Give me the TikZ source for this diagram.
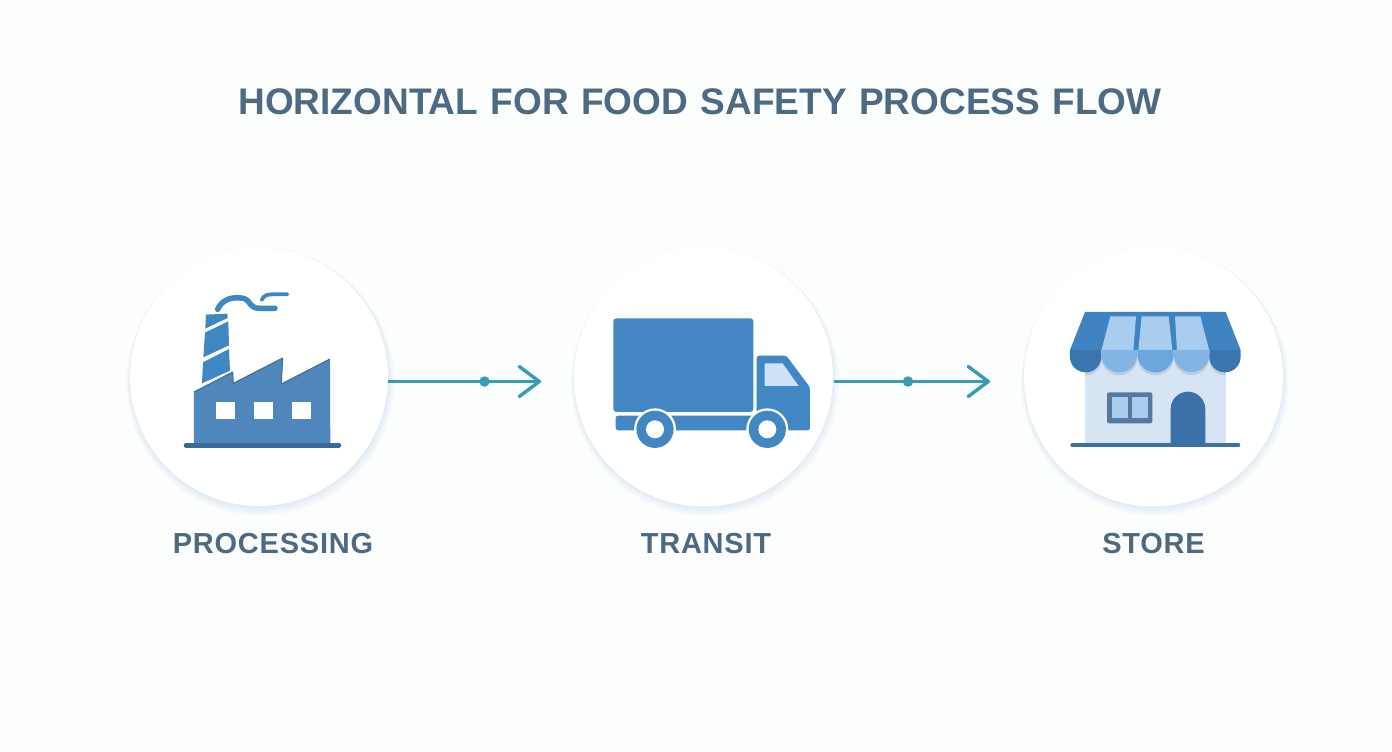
\documentclass[tikz,border=0pt]{standalone}
\usepackage{fontspec}
\setmainfont{Liberation Sans}
\newfontfamily\lblfont[LetterSpace=2.7]{Liberation Sans}
\newfontfamily\ttlfont[WordSpace=1.215]{Liberation Sans}
\usetikzlibrary{arrows.meta}
\definecolor{bgc}{HTML}{FCFDFD}
\definecolor{txtc}{HTML}{4D6A82}
\definecolor{teal}{HTML}{369DB5}
\definecolor{fac}{HTML}{4F86BC}
\definecolor{facd}{HTML}{3A6A9C}
\definecolor{smoke}{HTML}{3F87C2}
\definecolor{truck}{HTML}{4286C3}
\definecolor{glass}{HTML}{CFE1F5}
\definecolor{awn}{HTML}{3F83C2}
\definecolor{awnd}{HTML}{3A75AE}
\definecolor{stripe}{HTML}{A9CDEE}
\definecolor{stripel}{HTML}{82B5E3}
\definecolor{stripem}{HTML}{6BA6DC}
\definecolor{wallc}{HTML}{D6E4F3}
\definecolor{door}{HTML}{3A72A8}
\definecolor{frame}{HTML}{56799E}
\definecolor{shad}{HTML}{6FAFD2}
\tikzset{
  x=1pt,y=-1pt,
  disc/.style={circle,fill=white,minimum size=#1,inner sep=0pt},
  lbl/.style={font=\lblfont\bfseries\fontsize{29}{32}\selectfont,text=txtc,inner sep=0pt,anchor=center},
  ttl/.style={font=\ttlfont\bfseries\fontsize{37}{40}\selectfont,text=txtc,inner sep=0pt,anchor=center},
  link/.style={draw=teal,line width=2.8pt,-{Straight Barb[length=20pt,width=30pt,line width=3.4pt,round]}},
  jdot/.style={circle,fill=teal,minimum size=10.5pt,inner sep=0pt},
  zoomA/.style={shift={(120,240)},x=0.3333pt,y=-0.3333pt},
  zoomB/.style={shift={(560,240)},x=0.3333pt,y=-0.3333pt},
  zoomC/.style={shift={(1015,240)},x=0.3333pt,y=-0.3333pt},
}
\newcommand{\softshadow}[2]{%
  \foreach \i in {1,...,10}{%
    \fill[shad,opacity=0.02] ({#1+0.15*\i},{377+0.5*\i}) circle[radius={128+0.6*\i}];
  }%
}
\newcommand{\scallop}[4]{% left x, right x, radius, arc start y (zoom units)
  (#1,330) -- (#2,330) -- (#2,#4) arc[start angle=0,end angle=-180,radius=#3pt] -- cycle
}
\begin{document}
\begin{tikzpicture}
\useasboundingbox (0,0) rectangle (1392,752);
\fill[bgc] (0,0) rectangle (1392,752);

\node[ttl] (title) at (700,102) {HORIZONTAL FOR FOOD SAFETY PROCESS FLOW};

% circles
\softshadow{259}{377}
\softshadow{703.5}{377}
\softshadow{1153.5}{377}
\node[disc=258pt] (c1) at (259,377) {};
\node[disc=259pt] (c2) at (703.5,377) {};
\node[disc=259pt] (c3) at (1153.5,377) {};

% connectors
\coordinate (e1) at (541,381.5);
\coordinate (e2) at (990,381.5);
\coordinate (s1) at (388,381.5);
\coordinate (s2) at (834,381.5);
\draw[link] (s1) -- (e1);
\draw[link] (s2) -- (e2);
\node[jdot] (d1) at (484.5,381.5) {};
\node[jdot] (d2) at (908,381.5) {};

% factory
\begin{scope}[zoomA]
  \draw[smoke,line width=5.5pt,line cap=round,line join=round]
    (293,208) .. controls (305,180) and (335,168) .. (370,175) .. controls (395,182) and (385,205) .. (420,205) -- (465,205);
  \draw[smoke,line width=3.8pt,line cap=round]
    (425,180) .. controls (432,164) and (445,163) .. (460,163) -- (502,163);
  \fill[smoke] (258,224) -- (322,221) -- (323,234) -- (256,266) -- cycle;
  \fill[smoke] (255,278) -- (325,244) -- (327,316) -- (250,352) -- cycle;
  \fill[smoke] (249,367) -- (327,327) -- (330,392) -- (246,430) -- cycle;
  \fill[fac] (222,456) -- (338,396) -- (340,430) -- (488,354) -- (484,432) -- (630,357) -- (631,612) -- (222,612) -- cycle;
  \draw[facd,line width=1pt,line join=round] (222,456) -- (338,396) -- (340,430) -- (488,354) -- (484,432) -- (630,357);
  \fill[white] (288,486) rectangle (345,537);
  \fill[white] (402,486) rectangle (459,537);
  \fill[white] (516,486) rectangle (574,537);
  \draw[facd,line width=4.5pt,line cap=round] (198,616) -- (657,616);
\end{scope}

% truck
\begin{scope}[zoomB]
  \fill[truck,rounded corners=3pt] (160,235) rectangle (580,516);
  \fill[truck,rounded corners=2.5pt] (167,527) rectangle (600,571);
  \fill[truck,rounded corners=2.5pt] (590,347) -- (679,347) -- (750,442) -- (750,571) -- (590,571) -- cycle;
  \fill[glass] (614,370) -- (668,370) -- (716,438) -- (614,438) -- cycle;
  \fill[white] (285,568) circle[radius=21pt];
  \fill[white] (622,568) circle[radius=21pt];
  \fill[truck] (285,568) circle[radius=18.6pt];
  \fill[truck] (622,568) circle[radius=18.6pt];
  \fill[white] (285,568) circle[radius=9pt];
  \fill[white] (622,568) circle[radius=9pt];
\end{scope}

% store
\begin{scope}[zoomC]
  \fill[wallc] (211,340) rectangle (632,612);
  \begin{scope}
    \clip (211,340) rectangle (632,612);
    \begin{scope}[yshift=-3pt]
      \fill[facd,opacity=0.18] \scallop{165}{259}{15.7}{350};
      \fill[facd,opacity=0.18] \scallop{259}{367}{18}{343};
      \fill[facd,opacity=0.18] \scallop{367}{476}{18.1}{343};
      \fill[facd,opacity=0.18] \scallop{476}{583}{17.8}{343};
      \fill[facd,opacity=0.18] \scallop{583}{677}{15.7}{350};
    \end{scope}
  \end{scope}
  % awning top
  \fill[awn] (210,216) -- (632,216) -- (677,330) -- (165,330) -- cycle;
  \fill[stripe] (286,229) -- (363,229) -- (355,332) -- (259,332) -- cycle;
  \fill[stripe] (380,229) -- (461,229) -- (472,332) -- (370,332) -- cycle;
  \fill[stripe] (480,229) -- (556,229) -- (583,332) -- (486,332) -- cycle;
  % scallops
  \fill[awnd] \scallop{165}{259}{15.7}{350};
  \fill[awnd] \scallop{583}{677}{15.7}{350};
  \fill[stripel] \scallop{259}{367}{18}{343};
  \fill[stripem] \scallop{367}{476}{18.1}{343};
  \fill[stripel] \scallop{476}{583}{17.8}{343};
  % window
  \fill[frame,rounded corners=2pt] (276,457) rectangle (412,550);
  \fill[stripe] (290,471) rectangle (338,535);
  \fill[stripe] (351,471) rectangle (399,535);
  % door
  \fill[door] (467,612) -- (467,507) arc[start angle=180,end angle=0,radius=17.3pt] -- (571,612) -- cycle;
  \draw[door,line width=4pt,line cap=round] (172,616) -- (670,616);
\end{scope}

% labels
\node[lbl] (l1) at (273,544) {PROCESSING};
\node[lbl] (l2) at (706,544) {TRANSIT};
\node[lbl] (l3) at (1153.5,544) {STORE};
\end{tikzpicture}
\end{document}
